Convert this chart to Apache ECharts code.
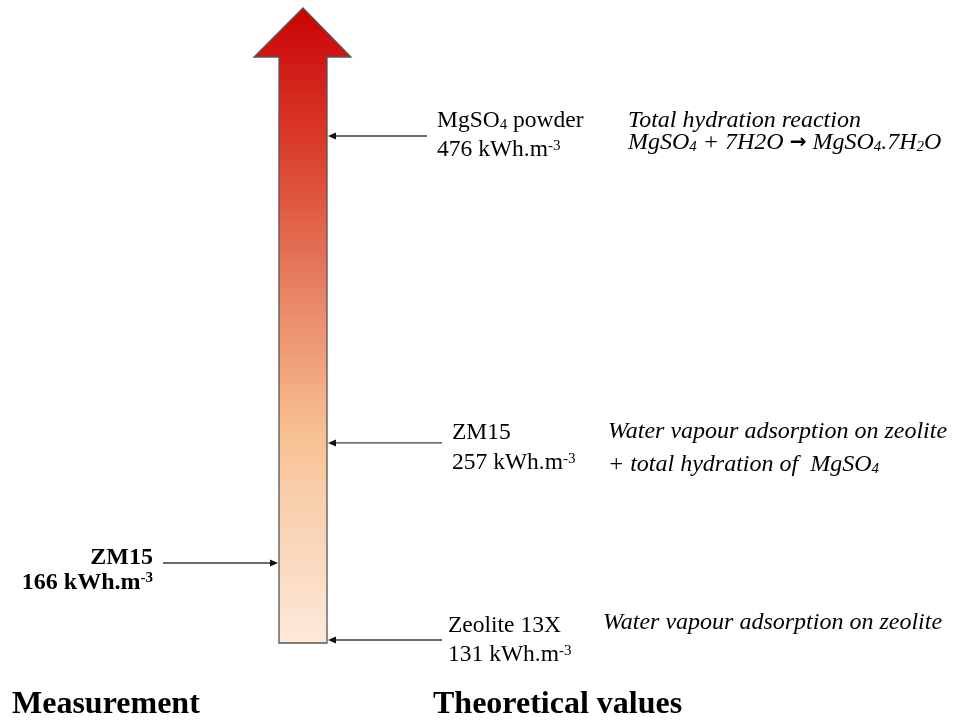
<!DOCTYPE html>
<html>
<head>
<meta charset="utf-8">
<script src="https://cdn.jsdelivr.net/npm/echarts@6/dist/echarts.min.js"></script>
<style>
html,body{margin:0;padding:0;background:#fff;}
#chart{width:953px;height:722px;}
</style>
</head>
<body>
<div id="chart"></div>
<script>
// ---------- data ----------
const theoryValues = [476, 257, 131];
const theoryMaterials = ['MgSO{sub|4} powder', 'ZM15', 'Zeolite 13X'];
const theoryNotes = [
  ['Total hydration reaction', 'MgSO{sub|4} + 7H2O {arr|\u2192} MgSO{sub|4}.7H{sub|2}O'],
  ['Water vapour adsorption on zeolite', '+ total hydration of  MgSO{sub|4}'],
  ['Water vapour adsorption on zeolite']
];
const measuredValues = [166];
const measuredMaterials = ['ZM15'];
const unitText = 'kWh.m';
const unitExponent = '-3';
const groupTitles = ['Measurement', 'Theoretical values'];
// schematic (non-linear) energy scale of the diagram: compressed stretches of the axis
const axisBreaks = [[190, 226.4], [300, 379.5]];

// ---------- layout / style ----------
const FONT = 'Liberation Serif';
const FS = 23.5;
const FS_IT = 24;
const BAR = { left: 279, right: 327, top: 57, bottom: 643, headLeft: 254, headRight: 351, tipX: 303, tipY: 8 };
const theoryLayout = [
  { arrowEnd: 427, textX: 437, dy1: -15, dy2: 14, noteX: 628, noteDy: -15, noteGap: 22 },
  { arrowEnd: 442, textX: 452, dy1: -10, dy2: 20, noteX: 608, noteDy: -11, noteGap: 33 },
  { arrowEnd: 442, textX: 448, dy1: -14, dy2: 15, noteX: 603, noteDy: -17, noteGap: 30 }
];
const measuredLayout = [{ arrowStart: 163, textRight: 153, dy1: -5, dy2: 20 }];
const LINE_COLOR = '#3a3a3a';

const richStyles = (weight, style) => ({
  sub: { fontFamily: FONT, fontSize: 15, fontWeight: weight, fontStyle: style, lineHeight: 5, verticalAlign: 'bottom', fill: '#000' },
  sup: { fontFamily: FONT, fontSize: 15, fontWeight: weight, fontStyle: style, lineHeight: 10, verticalAlign: 'top', fill: '#000' },
  arr: { fontFamily: 'DejaVu Sans', fontSize: 20, fontWeight: 'bold', fill: '#000' }
});

function textEl(text, x, y, opts) {
  const weight = opts.weight || 'normal';
  const style = opts.style || 'normal';
  const size = opts.size || FS;
  return {
    type: 'text',
    style: {
      text: text, x: x, y: y,
      fontFamily: FONT, fontSize: size, fontWeight: weight, fontStyle: style,
      lineHeight: size,
      fill: '#000', align: opts.align || 'left', verticalAlign: 'middle',
      rich: richStyles(weight, style)
    }
  };
}

function arrowEl(x1, x2, y) {
  const dir = x2 > x1 ? 1 : -1;
  const hl = 8, hw = 3.5;
  return [
    { type: 'line', shape: { x1: x1, y1: y, x2: x2 - dir * hl, y2: y }, style: { stroke: LINE_COLOR, lineWidth: 1.3 } },
    { type: 'polygon', shape: { points: [[x2, y], [x2 - dir * hl, y - hw], [x2 - dir * hl, y + hw]] }, style: { fill: '#111' } }
  ];
}

function renderTheory(params, api) {
  const i = params.dataIndex;
  const L = theoryLayout[i];
  const y = api.coord([0, api.value(1)])[1];
  const children = arrowEl(L.arrowEnd, BAR.right + 1, y);
  children.push(textEl(theoryMaterials[i], L.textX, y + L.dy1, {}));
  children.push(textEl(theoryValues[i] + ' ' + unitText + '{sup|' + unitExponent + '}', L.textX, y + L.dy2, {}));
  theoryNotes[i].forEach((n, k) => {
    children.push(textEl(n, L.noteX, y + L.noteDy + k * L.noteGap, { style: 'italic', size: FS_IT }));
  });
  return { type: 'group', children: children };
}

function renderMeasured(params, api) {
  const i = params.dataIndex;
  const L = measuredLayout[i];
  const y = api.coord([0, api.value(1)])[1];
  const children = arrowEl(L.arrowStart, BAR.left - 1, y);
  children.push(textEl(measuredMaterials[i], L.textRight, y + L.dy1, { weight: 'bold', align: 'right', size: 24 }));
  children.push(textEl(measuredValues[i] + ' ' + unitText + '{sup|' + unitExponent + '}', L.textRight, y + L.dy2, { weight: 'bold', align: 'right', size: 24 }));
  return { type: 'group', children: children };
}

const chart = echarts.init(document.getElementById('chart'), null, { renderer: 'canvas' });
chart.setOption({
  backgroundColor: '#ffffff',
  animation: false,
  grid: { left: 0, right: 0, top: 83.2, bottom: 13.8 },
  xAxis: { type: 'value', min: 0, max: 1, show: false },
  yAxis: {
    type: 'value', min: 100, max: 500, show: false,
    breaks: axisBreaks.map(b => ({ start: b[0], end: b[1], gap: 0 })),
    breakArea: { show: false }
  },
  graphic: [
    {
      type: 'polygon', z: 1,
      shape: { points: [
        [BAR.left, BAR.bottom], [BAR.left, BAR.top], [BAR.headLeft, BAR.top], [BAR.tipX, BAR.tipY],
        [BAR.headRight, BAR.top], [BAR.right, BAR.top], [BAR.right, BAR.bottom]
      ] },
      style: {
        fill: { type: 'linear', x: 0, y: 0, x2: 0, y2: 1, colorStops: [
          { offset: 0, color: '#CC0000' },
          { offset: 0.05, color: '#CE1010' },
          { offset: 0.2, color: '#D93828' },
          { offset: 0.364, color: '#E26A4F' },
          { offset: 0.47, color: '#EA8A6A' },
          { offset: 0.574, color: '#F2A57C' },
          { offset: 0.664, color: '#F8C090' },
          { offset: 0.785, color: '#F9D0AE' },
          { offset: 1, color: '#FDE9DA' }
        ] },
        stroke: '#555555', lineWidth: 1.3
      }
    },
    { type: 'text', left: 12, top: 689, style: { text: groupTitles[0], fontFamily: FONT, fontSize: 32, fontWeight: 'bold', fill: '#000' } },
    { type: 'text', left: 433, top: 689, style: { text: groupTitles[1], fontFamily: FONT, fontSize: 32, fontWeight: 'bold', fill: '#000' } }
  ],
  series: [
    { type: 'custom', name: 'Theoretical values', coordinateSystem: 'cartesian2d', z: 5,
      data: theoryValues.map(v => [0, v]), renderItem: renderTheory, clip: false },
    { type: 'custom', name: 'Measurement', coordinateSystem: 'cartesian2d', z: 5,
      data: measuredValues.map(v => [0, v]), renderItem: renderMeasured, clip: false }
  ]
});
</script>
</body>
</html>
